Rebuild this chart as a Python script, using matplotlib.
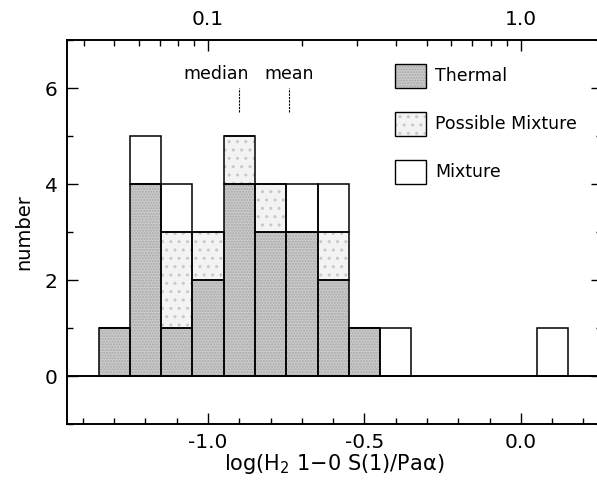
import numpy as np
import matplotlib
matplotlib.use("Agg")
import matplotlib.pyplot as plt
from matplotlib.patches import Rectangle
from matplotlib.ticker import MultipleLocator

# histogram of log(H2 1-0 S(1)/Pa alpha), bins of 0.1 dex
bin_centers = [-1.3, -1.2, -1.1, -1.0, -0.9, -0.8, -0.7, -0.6, -0.5, -0.4, 0.1]
thermal = [1, 4, 1, 2, 4, 3, 3, 2, 1, 0, 0]
possible_mixture = [0, 0, 2, 1, 1, 1, 0, 1, 0, 0, 0]
mixture = [0, 1, 1, 0, 0, 0, 1, 1, 0, 1, 1]
bin_width = 0.1

median_val = -0.90
mean_val = -0.74

labels = ["Thermal", "Possible Mixture", "Mixture"]
top_major = [0.1, 1.0]
top_minor = [0.04, 0.05, 0.06, 0.07, 0.08, 0.09, 0.2, 0.3, 0.4, 0.5, 0.6, 0.7, 0.8, 0.9]

plt.rcParams["font.family"] = "DejaVu Sans"
plt.rcParams["mathtext.default"] = "regular"

# fill colour / stipple for each class
styles = [
    dict(facecolor="#cbcbcb", hatch="......", hatchcolor="#a8a8a8"),
    dict(facecolor="#f3f3f3", hatch="..", hatchcolor="#c8c8c8"),
    dict(facecolor="white", hatch=None, hatchcolor="white"),
]


def draw_block(ax, x, bottom, height, width, style):
    # texture first, then a clean black outline on top
    ax.bar(x, height, width=width, bottom=bottom, facecolor=style["facecolor"],
           hatch=style["hatch"], edgecolor=style["hatchcolor"], linewidth=0, zorder=2)
    ax.bar(x, height, width=width, bottom=bottom, facecolor="none",
           edgecolor="black", linewidth=1.1, zorder=3)


fig = plt.figure(figsize=(5.97, 4.95), dpi=100)
ax = fig.add_axes([0.1127, 0.1428, 0.895, 0.7764])

x = np.array(bin_centers)
t = np.array(thermal)
p = np.array(possible_mixture)
m = np.array(mixture)

draw_block(ax, x, 0, t, bin_width, styles[0])
draw_block(ax, x, t, p, bin_width, styles[1])
draw_block(ax, x, t + p, m, bin_width, styles[2])

ax.axhline(0, color="black", linewidth=1.4, zorder=4)

ax.set_xlim(-1.45, 0.258)
ax.set_ylim(-1, 7)

# median and mean markers
ax.plot([median_val, median_val], [5.5, 6.0], color="black", linewidth=0.8, linestyle=(0, (2, 1)))
ax.plot([mean_val, mean_val], [5.5, 6.0], color="black", linewidth=0.8, linestyle=(0, (2, 1)))
ax.text(-0.975, 6.3, "median", ha="center", va="center", fontsize=12.5)
ax.text(mean_val, 6.3, "mean", ha="center", va="center", fontsize=12.5)

# hand-drawn key
for i, (lab, style) in enumerate(zip(labels, styles)):
    y0 = 6.0 - i
    ax.add_patch(Rectangle((-0.4035, y0), 0.099, 0.5, facecolor=style["facecolor"],
                           hatch=style["hatch"], edgecolor=style["hatchcolor"], linewidth=0, zorder=2))
    ax.add_patch(Rectangle((-0.4035, y0), 0.099, 0.5, facecolor="none",
                           edgecolor="black", linewidth=1.0, zorder=3))
    ax.text(-0.273, y0 + 0.25, lab, ha="left", va="center", fontsize=12.5)

ax.xaxis.set_major_locator(MultipleLocator(0.5))
ax.xaxis.set_minor_locator(MultipleLocator(0.1))
ax.yaxis.set_major_locator(MultipleLocator(2))
ax.yaxis.set_minor_locator(MultipleLocator(1))
ax.xaxis.set_major_formatter(matplotlib.ticker.FormatStrFormatter("%.1f"))
ax.tick_params(which="both", direction="in", top=False, right=True, labelsize=14.5)
ax.tick_params(which="major", length=8, width=1.0)
ax.tick_params(which="minor", length=4, width=1.0)
ax.tick_params(axis="x", pad=6)
ax.tick_params(axis="y", pad=7)
for s in ax.spines.values():
    s.set_linewidth(1.2)

ax.set_xlabel(r"log(H$_2$ 1$-$0 S(1)/Pa$\alpha$)", fontsize=15, labelpad=0)
ax.set_ylabel("number", fontsize=14, labelpad=8)

# linear ratio on the top axis
ax_top = ax.twiny()
ax_top.set_xlim(ax.get_xlim())
ax_top.set_xticks(np.log10(top_major))
ax_top.set_xticklabels(["0.1", "1.0"])
ax_top.set_xticks(np.log10(top_minor), minor=True)
ax_top.tick_params(which="both", direction="in", labelsize=14.5, pad=8)
ax_top.tick_params(which="major", length=8, width=1.0)
ax_top.tick_params(which="minor", length=4, width=1.0)
for s in ax_top.spines.values():
    s.set_linewidth(1.2)

fig.savefig("out.png", dpi=100)
